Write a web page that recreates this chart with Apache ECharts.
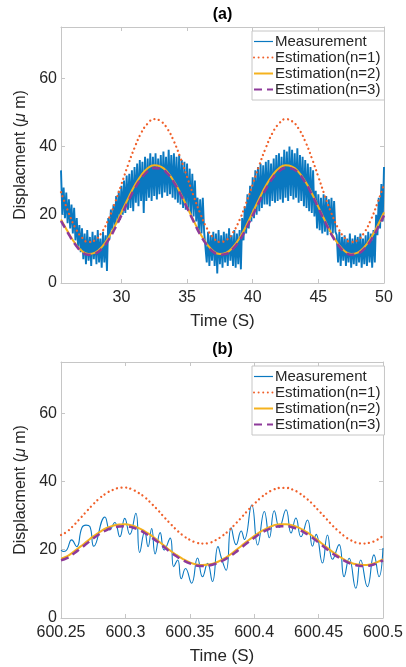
<!DOCTYPE html>
<html>
<head>
<meta charset="utf-8">
<script src="https://cdn.jsdelivr.net/npm/echarts@6/dist/echarts.min.js"></script>
<style>
  html, body { margin: 0; padding: 0; background: #fff; }
  #chart { width: 406px; height: 667px; }
</style>
</head>
<body>
<div id="chart"></div>
<script>
// ---- data ----
const seriesNames = ["Measurement", "Estimation(n=1)", "Estimation(n=2)", "Estimation(n=3)"];

// (a) measurement, sampled every 0.1 s from 25.4 s
const measA_t0 = 25.4, measA_dt = 0.1;
const measA = [
  33, 20, 28, 19, 26.5, 17.5,
  24.5, 16, 23, 14.5, 22, 12.5, 19, 10.5, 17, 9,
  16, 7, 14.5, 5.5, 15.5, 6.5, 13.5, 5, 15, 7,
  14, 5.5, 15.5, 6, 13, 4.5, 15, 6, 14, 3.5,
  19, 13, 21.5, 15.5, 23, 16.5, 25.5, 17.5, 27, 18.5,
  28.5, 20, 30, 20.5, 31.5, 21.5, 32, 22, 33, 21,
  34, 23.5, 35, 22.5, 36, 24, 35.5, 20.5, 37, 24,
  36.5, 25, 38, 24, 37, 25.5, 38, 24.5, 36.5, 26,
  37.5, 25, 38.5, 26.5, 37, 25.5, 39, 26, 37.5, 25,
  38, 24.5, 37, 23.5, 37.5, 23, 36, 22, 35.5, 21.5,
  35, 21, 33.5, 20, 32, 19.5, 30, 18, 25, 15,
  24.5, 14.5, 25, 15, 15.5, 6, 15, 5, 14, 6.5,
  15, 5, 14.5, 2.8, 15.5, 5.5, 14, 4.5, 15, 6,
  14.5, 5, 16, 6.5, 14, 5, 15.5, 4.5, 14.5, 5.5,
  15.5, 4, 19, 12.5, 22.5, 14.5, 26, 16, 28.5, 18,
  31, 19, 33, 20, 34, 21, 35, 22, 34.5, 23,
  35.5, 23, 36, 22.5, 35, 24, 36.5, 23.5, 37.5, 24,
  38, 24.5, 37, 23.5, 39, 25, 38.5, 24, 40, 25.5,
  39, 24.5, 38, 25, 39.5, 23.5, 37.5, 24, 37, 22.5,
  36, 22, 35, 21, 34, 20.5, 33, 19.5, 27, 16,
  26, 15.5, 25, 14.5, 26, 15, 25.5, 14, 24.5, 15,
  25, 14.5, 24, 15, 14, 6, 15, 5, 13.5, 6.5,
  14, 5, 13, 6, 14.5, 4.5, 13, 5.5, 14, 5,
  13.5, 6, 14.5, 4.5, 13, 5.5, 14, 5, 15, 6,
  14.5, 4.5, 15.5, 6, 20, 14, 25, 16, 29, 18,
  34
];

// (a) estimations
const estA_t = [25.4, 26, 26.5, 27, 27.5, 28, 28.5, 29, 29.5, 30, 30.5, 31, 31.5, 32, 32.5, 33, 33.5, 34, 34.5, 35,
  35.5, 36, 36.5, 37, 37.5, 38, 38.5, 39, 39.5, 40, 40.5, 41, 41.5, 42, 42.5, 43, 43.5, 44, 44.5, 45,
  45.5, 46, 46.5, 47, 47.5, 48, 48.5, 49, 49.5, 50];
const estA_n1 = [26.6, 20.4, 16.1, 13.3, 12.0, 12.6, 14.8, 18.5, 23.4, 28.9, 34.5, 39.6, 43.9, 46.7, 48.0, 47.4, 45.2, 41.5, 36.6, 31.1,
  25.5, 20.4, 16.1, 13.3, 12.0, 12.6, 14.8, 18.5, 23.4, 28.9, 34.5, 39.6, 43.9, 46.7, 48.0, 47.4, 45.2, 41.5, 36.6, 31.1,
  25.5, 20.4, 16.1, 13.3, 12.0, 12.6, 14.8, 18.5, 23.4, 28.9];
const estA_n2 = [18.6, 14.5, 11.5, 9.4, 8.5, 8.9, 10.5, 13.2, 16.7, 20.7, 24.7, 28.5, 31.5, 33.6, 34.5, 34.1, 32.5, 29.8, 26.3, 22.3,
  18.3, 14.5, 11.5, 9.4, 8.5, 8.9, 10.5, 13.2, 16.7, 20.7, 24.7, 28.5, 31.5, 33.6, 34.5, 34.1, 32.5, 29.8, 26.3, 22.3,
  18.3, 14.5, 11.5, 9.4, 8.5, 8.9, 10.5, 13.2, 16.7, 20.7];
const estA_n3 = [18.2, 14.2, 11.2, 9.1, 8.3, 8.6, 10.0, 12.5, 15.9, 19.8, 23.8, 27.5, 30.6, 32.7, 33.7, 33.5, 32.1, 29.5, 26.0, 22.0,
  18.0, 14.2, 11.2, 9.1, 8.3, 8.6, 10.0, 12.5, 15.9, 19.8, 23.8, 27.5, 30.6, 32.7, 33.7, 33.5, 32.1, 29.5, 26.0, 22.0,
  18.0, 14.2, 11.2, 9.1, 8.3, 8.6, 10.0, 12.5, 15.9, 19.8];

// (b) measurement, peaks and valleys
const measB_t = [600.25, 600.2523, 600.2546, 600.2583, 600.2622, 600.2663, 600.2694, 600.2724, 600.2755, 600.2841,
  600.2879, 600.2918, 600.2957, 600.2995, 600.3034, 600.3081, 600.3111, 600.3150, 600.3176, 600.3204,
  600.3231, 600.3270, 600.3301, 600.3348, 600.3375, 600.3406, 600.3434, 600.3467, 600.3514, 600.3560,
  600.3599, 600.3638, 600.3676, 600.3719, 600.3746, 600.3782, 600.3821, 600.3860, 600.3899, 600.3924,
  600.3981, 600.4027, 600.4079, 600.4118, 600.4156, 600.4195, 600.4247, 600.4286, 600.4324, 600.4363,
  600.4414, 600.4453, 600.4481, 600.4530, 600.4569, 600.4608, 600.4659, 600.4698, 600.4737, 600.4789,
  600.4827, 600.4879, 600.4930, 600.4969, 600.5];
const measB_v = [19.9, 19.5, 20.0, 22.9, 20.9, 26.5, 27.2, 26.8, 21.0, 29.6,
  25.8, 28.0, 23.8, 29.2, 24.5, 30.7, 19.2, 25.3, 20.9, 26.2,
  18.8, 25.0, 19.9, 23.4, 15.0, 17.0, 11.5, 14.5, 10.2, 17.6,
  12.1, 16.0, 10.7, 20.9, 17.5, 14.0, 26.4, 21.5, 25.5, 23.0,
  33.1, 21.4, 31.2, 23.5, 31.4, 26.5, 31.7, 24.9, 29.3, 23.8,
  28.7, 21.0, 24.5, 16.1, 24.3, 17.2, 21.5, 12.1, 17.5, 8.7,
  17.0, 9.2, 18.5, 12.1, 20.5];

// (b) estimations, every 0.005 s from 600.25
const estB_t0 = 600.25, estB_dt = 0.005;
const estB_n1 = [24.3, 25.4, 27.2, 29.2, 31.3, 33.3, 35.1, 36.5, 37.5, 38.1, 38.2, 37.7, 36.7, 35.4, 33.6, 31.7, 29.6,
  27.6, 25.7, 24.1, 22.9, 22.1, 21.8, 22.0, 22.8, 24.0, 25.5, 27.4, 29.4, 31.5, 33.4, 35.2, 36.6, 37.6,
  38.1, 38.1, 37.6, 36.6, 35.2, 33.5, 31.5, 29.5, 27.4, 25.6, 24.0, 22.8, 22.0, 21.8, 22.1, 22.8, 24.1];
const estB_n2 = [17.4, 18.1, 19.5, 20.9, 22.4, 23.9, 25.2, 26.3, 27.0, 27.4, 27.5, 27.1, 26.4, 25.4, 24.2, 22.7, 21.2,
  19.7, 18.4, 17.2, 16.3, 15.7, 15.5, 15.7, 16.2, 17.1, 18.2, 19.6, 21.1, 22.6, 24.0, 25.3, 26.3, 27.1,
  27.5, 27.5, 27.1, 26.4, 25.3, 24.1, 22.6, 21.1, 19.6, 18.3, 17.1, 16.2, 15.7, 15.5, 15.7, 16.3, 17.2];
const estB_n3 = [16.9, 17.6, 18.9, 20.3, 21.8, 23.3, 24.6, 25.7, 26.4, 26.8, 26.9, 26.6, 25.9, 24.9, 23.7, 22.3, 20.8,
  19.3, 18.0, 16.9, 16.0, 15.4, 15.2, 15.4, 15.9, 16.7, 17.8, 19.1, 20.6, 22.1, 23.5, 24.8, 25.8, 26.5,
  26.9, 26.9, 26.5, 25.8, 24.8, 23.6, 22.1, 20.6, 19.1, 17.9, 16.8, 15.9, 15.4, 15.2, 15.4, 16.0, 16.9];

const xTicksA = [30, 35, 40, 45, 50];
const xTicksB = [600.25, 600.3, 600.35, 600.4, 600.45, 600.5];
const yTicks = [0, 20, 40, 60];

// ---- style ----
const FONT = '"Liberation Sans", Arial, sans-serif';
const boxColor = "#c6c6c6";
const textColor = "#262626";
const colors = ["#0a78c0", "#f0602a", "#f5b21e", "#8e3a9a"];

const pairs = (ts, vs) => vs.map((v, i) => [ts[i], v]);
const regular = (t0, dt, vs) => vs.map((v, i) => [+(t0 + i * dt).toFixed(4), v]);

function xAxes(grid, min, max, ticks, fmt) {
  return [
    {
      gridIndex: grid, type: "value", position: "bottom", min: min, max: max,
      axisLine: { onZero: false, lineStyle: { color: boxColor } },
      axisTick: { inside: true, length: 4, customValues: ticks, lineStyle: { color: boxColor } },
      axisLabel: { customValues: ticks, color: textColor, fontFamily: FONT, fontSize: 16, margin: 7, formatter: fmt },
      splitLine: { show: false },
      name: "Time (S)", nameLocation: "middle", nameGap: 30,
      nameTextStyle: { color: textColor, fontFamily: FONT, fontSize: 17 }
    },
    {
      gridIndex: grid, type: "value", position: "top", min: min, max: max,
      axisLine: { onZero: false, lineStyle: { color: boxColor } },
      axisTick: { inside: true, length: 4, customValues: ticks, lineStyle: { color: boxColor } },
      axisLabel: { show: false },
      splitLine: { show: false }
    }
  ];
}

function yAxes(grid) {
  return [
    {
      gridIndex: grid, type: "value", position: "left", min: 0, max: 75,
      axisLine: { show: true, lineStyle: { color: boxColor } },
      axisTick: { show: true, inside: true, length: 4, customValues: yTicks, lineStyle: { color: boxColor } },
      axisLabel: { customValues: yTicks, color: textColor, fontFamily: FONT, fontSize: 16, margin: 4 },
      splitLine: { show: false },
      name: "Displacment ({i|μ} m)", nameLocation: "middle", nameGap: 28,
      nameTextStyle: {
        color: textColor, fontFamily: FONT, fontSize: 16,
        rich: { i: { fontStyle: "italic", fontFamily: FONT, fontSize: 16, color: textColor } }
      }
    },
    {
      gridIndex: grid, type: "value", position: "right", min: 0, max: 75,
      axisLine: { show: true, lineStyle: { color: boxColor } },
      axisTick: { show: true, inside: true, length: 4, customValues: yTicks, lineStyle: { color: boxColor } },
      axisLabel: { show: false },
      splitLine: { show: false }
    }
  ];
}

function seriesFor(ax, meas, measSmooth, measWidth, n1, n2, n3) {
  const base = { type: "line", xAxisIndex: ax, yAxisIndex: ax, symbol: "none", animation: false };
  return [
    Object.assign({}, base, { name: seriesNames[0], data: meas, smooth: measSmooth,
      lineStyle: { color: colors[0], width: measWidth }, itemStyle: { color: colors[0] } }),
    Object.assign({}, base, { name: seriesNames[1], data: n1, smooth: true,
      lineStyle: { color: colors[1], width: 2.3, type: [0.01, 4.6], cap: "round" }, itemStyle: { color: colors[1] } }),
    Object.assign({}, base, { name: seriesNames[2], data: n2, smooth: true,
      lineStyle: { color: colors[2], width: 2 }, itemStyle: { color: colors[2] } }),
    Object.assign({}, base, { name: seriesNames[3], data: n3, smooth: true,
      lineStyle: { color: colors[3], width: 2.5, type: [8, 5] }, itemStyle: { color: colors[3] } })
  ];
}

function legendAt(top) {
  return {
    orient: "vertical", left: 252, top: top,
    // the measurement icon is drawn thin, as in the picture
    data: [{ name: seriesNames[0], lineStyle: { width: 1.2 } }].concat(seriesNames.slice(1)),
    itemWidth: 19, itemHeight: 10, itemGap: 1,
    padding: [3, 4, 3, 1],
    backgroundColor: "#fff", borderColor: boxColor, borderWidth: 1,
    itemStyle: { color: "transparent", borderWidth: 0, opacity: 0 },
    textStyle: { color: textColor, fontFamily: FONT, fontSize: 15, lineHeight: 15, padding: [0, 0, 0, -3] },
    selectedMode: false
  };
}

const chart = echarts.init(document.getElementById("chart"), null, { renderer: "canvas" });

chart.setOption({
  animation: false,
  backgroundColor: "#fff",
  grid: [
    { left: 61, right: 22, top: 27, height: 256 },
    { left: 61, right: 22, top: 362, height: 256 }
  ],
  xAxis: xAxes(0, 25.4, 50, xTicksA, v => String(v))
    .concat(xAxes(1, 600.25, 600.5, xTicksB, v => String(+v.toFixed(2)))),
  yAxis: yAxes(0).concat(yAxes(1)),
  legend: [legendAt(31), legendAt(366)],
  graphic: [
    { type: "text", x: 222.5, y: 7, style: { text: "(a)", fill: "#000", textAlign: "center", font: 'bold 16px "Liberation Sans", Arial' } },
    { type: "text", x: 222.5, y: 342, style: { text: "(b)", fill: "#000", textAlign: "center", font: 'bold 16px "Liberation Sans", Arial' } }
  ],
  series: seriesFor(0, regular(measA_t0, measA_dt, measA), false, 1.9,
      pairs(estA_t, estA_n1), pairs(estA_t, estA_n2), pairs(estA_t, estA_n3))
    .concat(seriesFor(2, pairs(measB_t, measB_v), 0.5, 1.1,
      regular(estB_t0, estB_dt, estB_n1), regular(estB_t0, estB_dt, estB_n2), regular(estB_t0, estB_dt, estB_n3)))
});
</script>
</body>
</html>
